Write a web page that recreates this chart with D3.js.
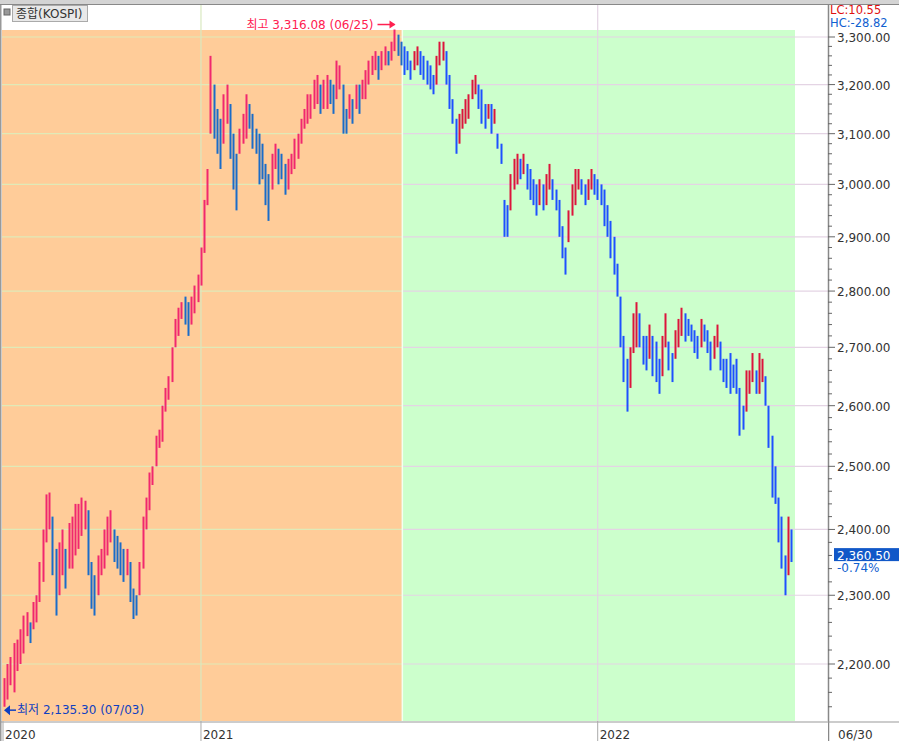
<!DOCTYPE html>
<html>
<head>
<meta charset="utf-8">
<script src="https://cdn.jsdelivr.net/npm/d3@7"></script>
<style>
body { margin: 0; background: #fff; }
text { font-family: "DejaVu Sans", "Noto Sans CJK KR", sans-serif; }
</style>
</head>
<body>
<script>
// daily-ish KOSPI range bars, [low, high], one entry per 2 trading days
var bars = [
  [2140,2180],[2150,2200],[2170,2210],[2160,2230],[2190,2235],[2200,2250],[2215,2270],[2240,2275],[2230,2260],[2250,2290],[2260,2300],
  [2290,2350],[2320,2400],[2380,2455],[2400,2458],[2330,2420],[2270,2370],[2300,2380],[2330,2400],[2310,2370],[2340,2410],
  [2340,2420],[2360,2440],[2370,2440],[2390,2450],[2400,2445],[2330,2430],[2280,2350],[2270,2330],[2300,2360],[2330,2370],
  [2340,2400],[2360,2420],[2380,2430],[2350,2400],[2340,2390],[2330,2380],[2320,2370],[2330,2370],[2290,2350],[2265,2310],[2270,2300],
  [2300,2350],[2340,2420],[2400,2450],[2430,2490],[2470,2500],[2500,2550],[2530,2560],[2540,2600],[2590,2630],[2610,2650],
  [2640,2700],[2700,2750],[2720,2770],[2750,2780],[2740,2790],[2720,2780],[2740,2790],[2760,2810],[2780,2830],[2810,2880],
  [2870,2970],[2960,3030],[3100,3260],[3090,3200],[3060,3150],[3030,3130],[3080,3180],[3120,3200],[3050,3160],[2990,3100],
  [2950,3060],[3060,3110],[3080,3140],[3090,3180],[3110,3160],[3070,3140],[3060,3110],[3000,3100],[3010,3080],
  [2960,3040],[2930,3020],[2990,3060],[3030,3080],[3000,3070],[3010,3060],[2980,3040],[2990,3050],[3020,3060],[3030,3090],[3050,3100],
  [3080,3130],[3110,3150],[3120,3180],[3130,3180],[3150,3210],[3160,3220],[3140,3200],[3150,3210],[3150,3220],[3160,3210],
  [3140,3200],[3170,3250],[3190,3240],[3100,3200],[3100,3150],[3130,3180],[3120,3170],[3150,3200],[3140,3200],[3170,3210],
  [3170,3230],[3200,3250],[3220,3260],[3230,3270],[3210,3260],[3230,3270],[3240,3280],[3240,3270],[3250,3290],[3270,3316],[3260,3305],
  [3240,3290],[3220,3280],[3230,3270],[3210,3250],[3230,3270],[3240,3280],[3220,3270],[3210,3260],[3200,3250],[3190,3240],[3180,3220],
  [3200,3260],[3240,3290],[3250,3290],[3200,3270],[3150,3220],[3120,3170],[3060,3130],[3080,3140],[3110,3150],[3120,3170],[3130,3180],
  [3170,3210],[3180,3220],[3150,3200],[3120,3190],[3110,3160],[3130,3160],[3100,3160],[3120,3150],[3070,3100],[3040,3080],
  [2900,2970],[2900,2960],[2950,3020],[2990,3050],[3000,3060],[3010,3050],[3020,3060],[2990,3040],[2970,3030],[2960,3010],
  [2940,3000],[2960,3010],[2950,3000],[2960,3020],[2990,3040],[2970,3010],[2950,2990],[2900,2970],[2860,2920],[2830,2880],
  [2890,2950],[2940,3000],[2960,3030],[2990,3030],[2980,3010],[2960,3000],[2970,3010],[2990,3030],[2980,3020],[2970,3010],
  [2960,3000],[2920,2990],[2900,2960],[2860,2930],[2830,2900],[2790,2850],[2700,2790],[2640,2720],[2590,2680],[2630,2700],
  [2690,2760],[2700,2780],[2700,2760],[2670,2720],[2660,2720],[2680,2740],[2650,2720],[2640,2710],[2620,2680],
  [2650,2720],[2700,2760],[2660,2710],[2640,2690],[2680,2730],[2700,2750],[2720,2770],[2710,2760],[2720,2750],[2710,2740],[2690,2730],[2680,2720],
  [2700,2750],[2710,2740],[2690,2730],[2660,2710],[2680,2720],[2700,2740],[2660,2710],[2640,2680],[2630,2680],[2620,2690],[2630,2670],
  [2620,2680],[2550,2630],[2560,2600],[2590,2660],[2620,2660],[2640,2690],[2620,2660],[2620,2690],[2640,2680],[2600,2650],
  [2530,2600],[2450,2550],[2440,2500],[2380,2450],[2340,2420],[2300,2360],[2330,2420],[2350,2400]
];
var yearTicks = [{i: 0, label: "2020"}, {i: 62, label: "2021"}, {i: 185, label: "2022"}];
var priceTicks = [2200, 2300, 2400, 2500, 2600, 2700, 2800, 2900, 3000, 3100, 3200, 3300];
var splitIndex = 124;   // peak 06/25 ends the orange zone
var lastPrice = 2360.50, lastChange = "-0.74%";

var W = 899, H = 741;
var plotL = 2, plotR = 828, plotT = 30, plotB = 721;

var svg = d3.select("body").append("svg").attr("width", W).attr("height", H);

var x = d3.scaleLinear().domain([0, bars.length - 1]).range([4, 791]);
var y = d3.scaleLog().domain([2200, 3300]).range([664, 37]);
var step = x(1) - x(0);
var splitX = x(splitIndex) - step / 2;

// header strip
svg.append("rect").attr("x", 0).attr("y", 0).attr("width", W).attr("height", 4).attr("fill", "#d4d4d4");
svg.append("line").attr("x1", 0).attr("x2", W).attr("y1", 4.5).attr("y2", 4.5).attr("stroke", "#888");
svg.append("rect").attr("x", 0).attr("y", 5).attr("width", 1.5).attr("height", H).attr("fill", "#999");

// zones
svg.append("rect").attr("x", plotL).attr("y", plotT).attr("width", splitX - plotL)
  .attr("height", plotB - plotT).attr("fill", "#ffcc99");
svg.append("rect").attr("x", splitX).attr("y", plotT)
  .attr("width", x(bars.length - 1) + 4 - splitX)
  .attr("height", plotB - plotT).attr("fill", "#ccffcc");

// horizontal grid
priceTicks.forEach(function (v) {
  svg.append("line").attr("x1", plotL).attr("x2", splitX).attr("y1", y(v)).attr("y2", y(v))
    .attr("stroke", "#e0eab8").attr("stroke-width", 1.2);
  svg.append("line").attr("x1", splitX).attr("x2", plotR).attr("y1", y(v)).attr("y2", y(v))
    .attr("stroke", "#e4d4e4").attr("stroke-width", 1.2);
});
// vertical grid
yearTicks.forEach(function (t) {
  if (t.i === 0) return;
  svg.append("line").attr("x1", x(t.i) - 3).attr("x2", x(t.i) - 3).attr("y1", 5).attr("y2", H)
    .attr("stroke", t.i > splitIndex ? "#e4d4e4" : "#d8e8c0").attr("stroke-width", 1.2);
});
svg.append("line").attr("x1", splitX).attr("x2", splitX).attr("y1", plotT).attr("y2", plotB)
  .attr("stroke", "#f4fff0").attr("stroke-width", 1.5);

// bars
svg.selectAll(".bar").data(bars).enter().append("line")
  .attr("class", "bar")
  .attr("x1", function (d, i) { return Math.round(x(i)) + 0.5; })
  .attr("x2", function (d, i) { return Math.round(x(i)) + 0.5; })
  .attr("y1", function (d) { return y(d[0]); })
  .attr("y2", function (d) { return y(d[1]); })
  .attr("stroke-width", 2)
  .attr("stroke", function (d, i) {
    var up = i === 0 || (d[0] + d[1]) > (bars[i - 1][0] + bars[i - 1][1]);
    if (i < splitIndex) return up ? "#f0286e" : "#1a6cc8";
    return up ? "#dc143c" : "#1e50ff";
  });

// right axis
svg.append("line").attr("x1", plotR + 0.5).attr("x2", plotR + 0.5).attr("y1", 5).attr("y2", H).attr("stroke", "#888").attr("stroke-width", 1.5);
d3.range(2120, 3340, 20).forEach(function (v) {
  var yy = y(v);
  if (yy < plotT || yy > plotB) return;
  var major = v % 100 === 0;
  svg.append("line").attr("x1", plotR).attr("x2", plotR + (major ? 7 : 4)).attr("y1", yy).attr("y2", yy).attr("stroke", "#666");
});
var fmt = d3.format(",.2f");
svg.selectAll(".ptick").data(priceTicks).enter().append("text")
  .attr("x", 837).attr("y", function (d) { return y(d) + 5; })
  .attr("font-size", 12).attr("fill", "#333").text(function (d) { return fmt(d); });

svg.append("text").attr("x", 830).attr("y", 14).attr("font-size", 11.5).attr("fill", "#e01010").text("LC:10.55");
svg.append("text").attr("x", 830).attr("y", 27).attr("font-size", 11.5).attr("fill", "#1060d0").text("HC:-28.82");
svg.append("rect").attr("x", 834).attr("y", y(lastPrice) - 7).attr("width", 65).attr("height", 13).attr("fill", "#1158c8");
svg.append("text").attr("x", 837).attr("y", y(lastPrice) + 4.5).attr("font-size", 12).attr("fill", "#fff").text(fmt(lastPrice));
svg.append("text").attr("x", 837).attr("y", y(lastPrice) + 17).attr("font-size", 12).attr("fill", "#1060d0").text(lastChange);

// bottom axis
svg.append("rect").attr("x", plotL).attr("y", plotB).attr("width", plotR - plotL).attr("height", H - plotB).attr("fill", "#fff");
svg.append("line").attr("x1", 0).attr("x2", W).attr("y1", plotB + 1).attr("y2", plotB + 1).attr("stroke", "#999");
yearTicks.forEach(function (t) {
  var xx = t.i === 0 ? 3 : x(t.i) - 3;
  svg.append("line").attr("x1", xx).attr("x2", xx).attr("y1", plotB).attr("y2", H).attr("stroke", "#aaa");
  svg.append("text").attr("x", xx + 2).attr("y", 739).attr("font-size", 12).attr("fill", "#333").text(t.label);
});
svg.append("text").attr("x", 838).attr("y", 739).attr("font-size", 12).attr("fill", "#333").text("06/30");

// title box
svg.append("rect").attr("x", 4).attr("y", 9).attr("width", 6).attr("height", 6).attr("fill", "#999").attr("stroke", "#666");
svg.append("rect").attr("x", 12.5).attr("y", 5.5).attr("width", 75).attr("height", 16).attr("fill", "#e8e8e8").attr("stroke", "#aaa");
svg.append("text").attr("x", 16).attr("y", 18).attr("font-size", 12).attr("fill", "#333").text("종합(KOSPI)");

// high / low annotations
var hiIdx = 122;
svg.append("text").attr("x", x(hiIdx) - 24).attr("y", y(3316) - 1).attr("text-anchor", "end")
  .attr("font-size", 12).attr("fill", "#ff2050").text("최고 3,316.08 (06/25)");
svg.append("line").attr("x1", x(hiIdx) - 20).attr("x2", x(hiIdx) - 3).attr("y1", y(3316) - 5).attr("y2", y(3316) - 5)
  .attr("stroke", "#ff2050").attr("stroke-width", 1.5);
svg.append("path").attr("d", "M" + (x(hiIdx) - 2) + "," + (y(3316) - 5) + "l-6,-4v8z").attr("fill", "#ff2050");
svg.append("path").attr("d", "M4," + (y(2135.3)) + "l6,-5v10z").attr("fill", "#1040c0");
svg.append("line").attr("x1", 8).attr("x2", 16).attr("y1", y(2135.3)).attr("y2", y(2135.3)).attr("stroke", "#1040c0").attr("stroke-width", 1.5);
svg.append("text").attr("x", 17).attr("y", y(2135.3) + 4).attr("font-size", 12).attr("fill", "#1040c0").text("최저 2,135.30 (07/03)");
</script>
</body>
</html>
